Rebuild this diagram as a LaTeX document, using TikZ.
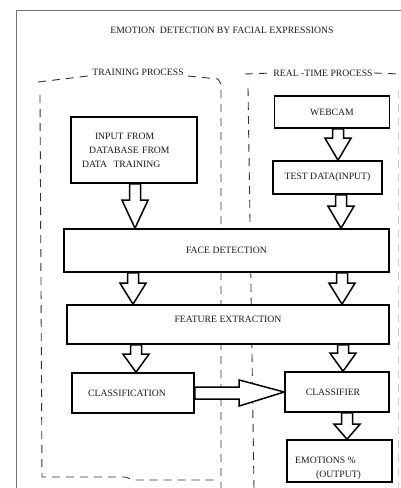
\documentclass[tikz,border=0pt]{standalone}
\usepackage{fontspec}
\setmainfont{Liberation Serif}
\usetikzlibrary{calc}
\begin{document}
\begin{tikzpicture}[x=1pt,y=-1pt,line join=miter,font=\fontsize{9.7}{14}\selectfont,
	stage/.style={draw,fill=white,line width=1.6pt,inner sep=0pt,text=black!90},
	fat/.style={draw,fill=white,line width=1.5pt},
	zone/.style={draw=black!80,line width=.9pt,dash pattern=on 8pt off 6pt}]
	\useasboundingbox (0,0) rectangle (401,488);
	% frame and dashed zones
	\draw[black!55,line width=1pt] (16,488)--(16,10)--(401,10);
	\draw[zone] (38,82)--(88,76) (188,76)--(218,79)--(221,84)--(221,488)
	(40,95)--(42,477)--(125,477)--(135,480)--(219,480);
	\draw[zone] (245,74)--(272,73) (374,73)--(401,74) (248,88)--(254,488);
	\draw[zone,draw=black!20] (398,90)--(398,488);
	\path (222,30) node[text=black!90] (title) {EMOTION\ \ DETECTION BY FACIAL EXPRESSIONS}
	(138,72) node[text=black!90] (trainlbl) {TRAINING PROCESS}
	(323,73) node[text=black!90] (reallbl) {REAL -TIME PROCESS};
	% boxes
	\node[stage,minimum width=126,minimum height=66,text width=104pt,align=left] (inp) at (134,150)
	{\hspace{13pt}INPUT FROM\\\hspace{7pt}DATABASE FROM\\DATA\ \ TRAINING};
	\node[stage,minimum width=115,minimum height=32] (web) at (332,112) {WEBCAM};
	\node[stage,minimum width=109,minimum height=33] (test) at (327.5,177.5) {TEST DATA(INPUT)};
	\node[stage,minimum width=325,minimum height=43] (face) at (226.5,250.5) {FACE DETECTION};
	\node[stage,minimum width=322,minimum height=39,text depth=10pt] (feat) at (228,324.5) {FEATURE EXTRACTION};
	\node[stage,minimum width=122,minimum height=40] (cls) at (133,393) {\hspace{-12pt}CLASSIFICATION};
	\node[stage,minimum width=104,minimum height=40] (clsr) at (337,392) {\hspace{-8pt}CLASSIFIER};
	\node[stage,minimum width=105,minimum height=42] (emo) at (339.5,461) {};
	\node[anchor=west,align=left,inner sep=0pt,text=black!90] (emotxt) at (295,468) {EMOTIONS \%\\\hspace{21pt}(OUTPUT)};
	% hollow arrows
	\foreach \s/\t/\px/\h in {inp/face/135/28,web/test/338/22,test/face/341/22,face/feat/133/21,
		face/feat/342/21,feat/cls/136/18,feat/clsr/343/18,clsr/emo/347/15}
	\draw[fat] let \p1=(\s.south),\p2=(\t.north) in
	(\px pt-5.5pt,\y1)--(\px pt-5.5pt,\y2+\h pt)--(\px pt-13pt,\y2+\h pt)--(\px pt,\y2)
	--(\px pt+13pt,\y2+\h pt)--(\px pt+5.5pt,\y2+\h pt)--(\px pt+5.5pt,\y1)--cycle;
	\draw[fat] let \p1=(cls.east),\p2=(clsr.west) in
	(\x1,\y1+6pt)--(\x2-45pt,\y1+6pt)--(\x2-45pt,\y1+13pt)--(\x2,\y2)
	--(\x2-45pt,\y1-13pt)--(\x2-45pt,\y1-6pt)--(\x1,\y1-6pt)--cycle;
\end{tikzpicture}
\end{document}
